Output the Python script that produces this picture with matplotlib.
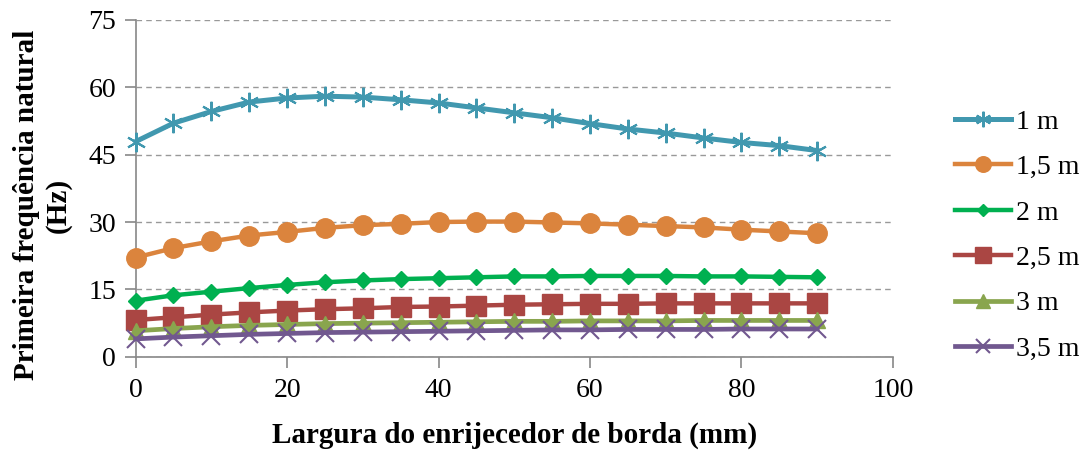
import matplotlib
matplotlib.use("Agg")
import matplotlib.pyplot as plt

x = [0, 5, 10, 15, 20, 25, 30, 35, 40, 45, 50, 55, 60, 65, 70, 75, 80, 85, 90]
s_1 = [47.9, 52.0, 54.6, 56.7, 57.6, 58.0, 57.8, 57.2, 56.5, 55.4, 54.3, 53.2, 51.9, 50.7, 49.8, 48.7, 47.7, 47.0, 45.9]
s_15 = [22.1, 24.2, 25.7, 27.0, 27.8, 28.7, 29.3, 29.6, 30.0, 30.1, 30.1, 29.9, 29.7, 29.4, 29.1, 28.8, 28.3, 27.9, 27.5]
s_2 = [12.5, 13.7, 14.5, 15.3, 16.0, 16.6, 17.0, 17.3, 17.5, 17.7, 17.9, 17.9, 18.0, 18.0, 18.0, 17.9, 17.9, 17.8, 17.7]
s_25 = [8.2, 8.8, 9.4, 9.9, 10.3, 10.6, 10.8, 11.1, 11.2, 11.4, 11.6, 11.7, 11.8, 11.8, 11.9, 11.9, 11.9, 11.9, 11.9]
s_3 = [5.8, 6.3, 6.7, 7.0, 7.2, 7.4, 7.5, 7.6, 7.7, 7.8, 7.9, 7.9, 8.0, 8.0, 8.0, 8.1, 8.1, 8.1, 8.1]
s_35 = [4.0, 4.4, 4.7, 5.0, 5.2, 5.4, 5.5, 5.6, 5.7, 5.8, 5.9, 6.0, 6.0, 6.1, 6.1, 6.1, 6.2, 6.2, 6.2]
labels = ["1 m", "1,5 m", "2 m", "2,5 m", "3 m", "3,5 m"]
colors = ["#4198AF", "#DB843D", "#00B050", "#AA4643", "#89A54E", "#71588F"]
xticks = [0, 20, 40, 60, 80, 100]
yticks = [0, 15, 30, 45, 60, 75]

plt.rcParams['font.family'] = ['Liberation Serif', 'DejaVu Serif']

fig = plt.figure(figsize=(10.85, 4.5), dpi=100)
ax = fig.add_axes([0.125, 0.207, 0.698, 0.749])

series = [s_1, s_15, s_2, s_25, s_3, s_35]
markers = [(6, 2, 0), 'o', 'D', 's', '^', 'x']
msizes = [14, 14, 8, 14, 12, 13]
lws = [3.6, 3.2, 3.2, 3.2, 3.4, 3.4]
mews = [1.5, 1, 1, 1, 1, 1.5]
for ys, lab, c, m, ms, lw, mew in zip(series, labels, colors, markers, msizes, lws, mews):
    ax.plot(x, ys, color=c, marker=m, markersize=ms, linewidth=lw,
            markeredgewidth=mew, markeredgecolor=c, markerfacecolor=c,
            label=lab, clip_on=False, zorder=3)

ax.set_xlim(0, 100)
ax.set_ylim(0, 75)
ax.set_xticks(xticks)
ax.set_yticks(yticks)
ax.tick_params(axis='both', labelsize=20, colors='#888888', labelcolor='black',
               length=8, width=1.2, direction='out')
ax.tick_params(axis='x', pad=7)
ax.tick_params(axis='y', pad=6)
ax.grid(axis='y', linestyle=(0, (4, 3)), color='#999999', linewidth=1.0)
ax.set_axisbelow(True)
for sp in ['top', 'right']:
    ax.spines[sp].set_visible(False)
for sp in ['left', 'bottom']:
    ax.spines[sp].set_color('#888888')
    ax.spines[sp].set_linewidth(1.2)

ax.set_xlabel("Largura do enrijecedor de borda (mm)", fontsize=21, fontweight='bold', labelpad=14)
ax.set_ylabel("Primeira frequência natural\n(Hz)", fontsize=21, fontweight='bold',
              linespacing=1.2)
ax.yaxis.set_label_coords(-0.085, 0.45)

leg = ax.legend(loc='center left', bbox_to_anchor=(1.082, 0.36), frameon=False,
                fontsize=20, handlelength=2.0, labelspacing=0.72, handletextpad=0.2,
                borderpad=0, borderaxespad=0, markerscale=0.8)

fig.savefig("out.png", dpi=100)
